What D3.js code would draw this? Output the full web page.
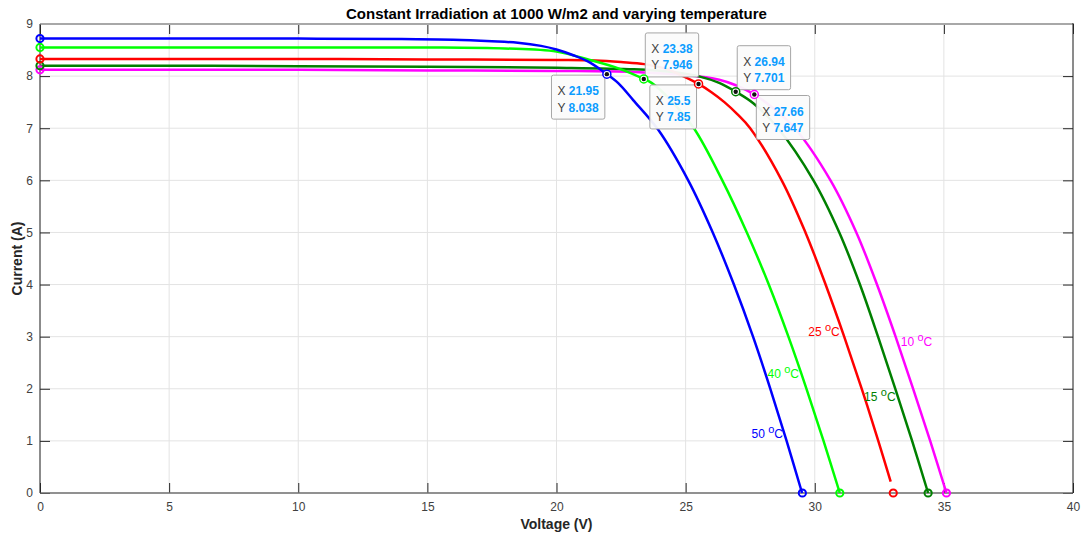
<!DOCTYPE html>
<html>
<head>
<meta charset="utf-8">
<script src="https://cdn.jsdelivr.net/npm/d3@7"></script>
<style>
  html, body { margin: 0; padding: 0; background: #ffffff; }
  svg { display: block; }
</style>
</head>
<body>
<svg id="chart" width="1081" height="535"></svg>
<script>
// ---------------- DATA ----------------
const seriesTemps = ["50", "40", "25", "15", "10"];
const seriesColors = ["#0000ff", "#00ff00", "#ff0000", "#008000", "#ff00ff"];

const v50 = [0, 5, 10, 14, 16, 17.5, 18.5, 19.4, 20.0, 20.65, 21.3, 21.95, 22.4, 22.97, 23.94, 25.1, 26.05, 26.87, 27.61, 28.28, 28.91, 29.51];
const i50 = [8.72, 8.72, 8.72, 8.71, 8.70, 8.67, 8.64, 8.58, 8.51, 8.40, 8.26, 8.038, 7.86, 7.54, 6.97, 6.0, 5.0, 4.0, 3.0, 2.0, 1.0, 0];

const v40 = [0, 5, 10, 15, 18, 20, 21.29, 22.45, 23.38, 23.68, 24.4, 25.32, 26.42, 27.37, 28.22, 28.98, 29.68, 30.34, 30.97];
const i40 = [8.55, 8.55, 8.55, 8.55, 8.53, 8.47, 8.31, 8.14, 7.946, 7.87, 7.55, 7.0, 6.0, 5.0, 4.0, 3.0, 2.0, 1.0, 0];

const v25 = [0, 5, 10, 15, 20, 21.5, 22.5, 23.4, 24.3, 24.9, 25.5, 26.0, 26.5, 27.0, 27.5, 28.72, 29.64, 30.42, 31.14, 31.82, 32.46, 32.94];
const i25 = [8.33, 8.33, 8.33, 8.32, 8.31, 8.30, 8.27, 8.23, 8.13, 8.0, 7.85, 7.69, 7.5, 7.27, 7.0, 6.0, 5.0, 4.0, 3.0, 2.0, 1.0, 0.22];

const v15 = [0, 5, 10, 15, 20, 23, 24.5, 25.55, 26.3, 26.94, 27.62, 28.58, 29.95, 30.95, 31.75, 32.45, 33.12, 33.77, 34.39];
const i15 = [8.20, 8.20, 8.19, 8.18, 8.16, 8.13, 8.08, 7.99, 7.87, 7.701, 7.48, 7.0, 6.0, 5.0, 4.0, 3.0, 2.0, 1.0, 0];

const v10 = [0, 5, 10, 15, 20, 23, 25, 26.3, 26.97, 27.66, 28.4, 29.23, 30.61, 31.61, 32.41, 33.13, 33.81, 34.47, 35.10];
const i10 = [8.12, 8.12, 8.12, 8.11, 8.10, 8.08, 8.02, 7.93, 7.82, 7.647, 7.38, 7.0, 6.0, 5.0, 4.0, 3.0, 2.0, 1.0, 0];

// short-circuit current (V = 0) and open-circuit voltage (I = 0) markers
const iscValues = [8.72, 8.55, 8.33, 8.20, 8.12];
const vocValues = [29.52, 30.97, 33.04, 34.39, 35.10];

// data tips
const tipV = [21.95, 23.38, 25.5, 26.94, 27.66];
const tipI = [8.038, 7.946, 7.85, 7.701, 7.647];
const tipXText = ["21.95", "23.38", "25.5", "26.94", "27.66"];
const tipYText = ["8.038", "7.946", "7.85", "7.701", "7.647"];
const tipPlacement = ["lower-left", "upper-right", "lower-left", "upper-right", "lower-right"];

// temperature label anchors (data coordinates)
const labelV = [27.55, 28.17, 29.75, 31.91, 33.33];
const labelI = [1.15, 2.30, 3.10, 1.86, 2.90];

// axes
const xTicks = [0, 5, 10, 15, 20, 25, 30, 35, 40];
const yTicks = [0, 1, 2, 3, 4, 5, 6, 7, 8, 9];
const titleText = "Constant Irradiation at 1000 W/m2 and varying temperature";
const xLabelText = "Voltage (V)";
const yLabelText = "Current (A)";

// ---------------- CHART ----------------
const FONT = "'Liberation Sans', Arial, Helvetica, sans-serif";
const svg = d3.select("#chart");
const L = 40, R = 1073, T = 24, B = 493;
const x = d3.scaleLinear().domain([0, 40]).range([L, R]);
const y = d3.scaleLinear().domain([0, 9]).range([B, T]);

const seriesV = [v50, v40, v25, v15, v10];
const seriesI = [i50, i40, i25, i15, i10];

// grid
const grid = svg.append("g");
grid.selectAll("line.gx").data(xTicks).join("line")
  .attr("x1", d => x(d)).attr("x2", d => x(d)).attr("y1", T).attr("y2", B)
  .attr("stroke", "#e3e3e3").attr("stroke-width", 1);
grid.selectAll("line.gy").data(yTicks).join("line")
  .attr("x1", L).attr("x2", R).attr("y1", d => y(d)).attr("y2", d => y(d))
  .attr("stroke", "#e3e3e3").attr("stroke-width", 1);

// axes
const styleAxis = g => {
  g.select(".domain").remove();
  g.selectAll(".tick line").attr("stroke", "#262626");
  g.selectAll(".tick text").attr("fill", "#404040").style("font-family", FONT).style("font-size", "12px");
};
svg.append("g").attr("transform", `translate(0,${B})`)
  .call(d3.axisBottom(x).tickValues(xTicks).tickSize(-10).tickPadding(9).tickFormat(d3.format("d")))
  .call(styleAxis);
svg.append("g").attr("transform", `translate(${L},0)`)
  .call(d3.axisLeft(y).tickValues(yTicks).tickSize(-10).tickPadding(7).tickFormat(d3.format("d")))
  .call(styleAxis);
svg.append("g").attr("transform", `translate(0,${T})`)
  .call(d3.axisTop(x).tickValues(xTicks).tickSize(-10).tickFormat(""))
  .call(styleAxis);
svg.append("g").attr("transform", `translate(${R},0)`)
  .call(d3.axisRight(y).tickValues(yTicks).tickSize(-10).tickFormat(""))
  .call(styleAxis);

// box
svg.append("line").attr("x1", L).attr("x2", R).attr("y1", T).attr("y2", T).attr("stroke", "#a8a8a8").attr("stroke-width", 2);
svg.append("line").attr("x1", L).attr("x2", R).attr("y1", B).attr("y2", B).attr("stroke", "#707070").attr("stroke-width", 1.5);
svg.append("line").attr("x1", L).attr("x2", L).attr("y1", T).attr("y2", B).attr("stroke", "#262626").attr("stroke-width", 1);
svg.append("line").attr("x1", R).attr("x2", R).attr("y1", T - 1).attr("y2", B).attr("stroke", "#262626").attr("stroke-width", 1);

// curves (draw order: 10, 15, 25, 40, 50)
const line = d3.line().x(d => x(d[0])).y(d => y(d[1])).curve(d3.curveCatmullRom.alpha(0.5));
const order = [4, 3, 2, 1, 0];
order.forEach(k => {
  const pts = seriesV[k].map((v, j) => [v, seriesI[k][j]]);
  svg.append("path").datum(pts).attr("d", line)
    .attr("fill", "none").attr("stroke", seriesColors[k]).attr("stroke-width", 2.5)
    .attr("stroke-linejoin", "round").attr("stroke-linecap", "butt");
});

// end markers
order.forEach(k => {
  svg.append("circle").attr("cx", x(0)).attr("cy", y(iscValues[k])).attr("r", 3.6)
    .attr("fill", "none").attr("stroke", seriesColors[k]).attr("stroke-width", 2);
  svg.append("circle").attr("cx", x(vocValues[k])).attr("cy", y(0)).attr("r", 3.6)
    .attr("fill", "none").attr("stroke", seriesColors[k]).attr("stroke-width", 2);
});

// temperature labels
seriesTemps.forEach((tp, k) => {
  const t = svg.append("text").attr("x", x(labelV[k])).attr("y", y(labelI[k]) + 4.5)
    .attr("fill", seriesColors[k]).style("font-family", FONT).style("font-size", "12px");
  t.append("tspan").text(tp + " ");
  t.append("tspan").attr("dy", -5).style("font-size", "11px").text("o");
  t.append("tspan").attr("dy", 5).text("C");
});

// data tips
tipV.forEach((v, k) => {
  const px = x(v), py = y(tipI[k]);
  const g = svg.append("g");
  const rect = g.append("rect").attr("rx", 2).attr("ry", 2)
    .attr("fill", "#fbfbfb").attr("fill-opacity", 0.95).attr("stroke", "#a6a6a6").attr("stroke-width", 1);
  const t1 = g.append("text").style("font-family", FONT).style("font-size", "12px");
  t1.append("tspan").attr("fill", "#404040").text("X ");
  t1.append("tspan").attr("fill", "#0a9cff").attr("font-weight", "bold").text(tipXText[k]);
  const t2 = g.append("text").style("font-family", FONT).style("font-size", "12px");
  t2.append("tspan").attr("fill", "#404040").text("Y ");
  t2.append("tspan").attr("fill", "#0a9cff").attr("font-weight", "bold").text(tipYText[k]);
  const w = Math.max(t1.node().getComputedTextLength(), t2.node().getComputedTextLength()) + 12;
  const h = 44;
  let bx, by;
  const p = tipPlacement[k];
  if (p === "lower-left") { bx = px - 2 - w; by = py + 1; }
  else if (p === "upper-right") { bx = px + 1.5; by = py - 2 - h; }
  else { bx = px + 2; by = py + 1; }
  rect.attr("x", bx).attr("y", by).attr("width", w).attr("height", h);
  t1.attr("x", bx + 6).attr("y", by + 20);
  t2.attr("x", bx + 6).attr("y", by + 36.5);
  svg.append("circle").attr("cx", px).attr("cy", py).attr("r", 4)
    .attr("fill", "#ffffff").attr("stroke", seriesColors[k]).attr("stroke-width", 1.5);
  svg.append("circle").attr("cx", px).attr("cy", py).attr("r", 2.2).attr("fill", "#111111");
});

// title and axis labels
svg.append("text").attr("x", (L + R) / 2).attr("y", 19).attr("text-anchor", "middle")
  .style("font-family", FONT).style("font-size", "15px").style("font-weight", "bold").attr("fill", "#000")
  .text(titleText);
svg.append("text").attr("x", (L + R) / 2).attr("y", 529).attr("text-anchor", "middle")
  .style("font-family", FONT).style("font-size", "14px").style("font-weight", "bold").attr("fill", "#262626")
  .text(xLabelText);
svg.append("text").attr("transform", `translate(22,${(T + B) / 2}) rotate(-90)`).attr("text-anchor", "middle")
  .style("font-family", FONT).style("font-size", "14px").style("font-weight", "bold").attr("fill", "#262626")
  .text(yLabelText);
</script>
</body>
</html>
